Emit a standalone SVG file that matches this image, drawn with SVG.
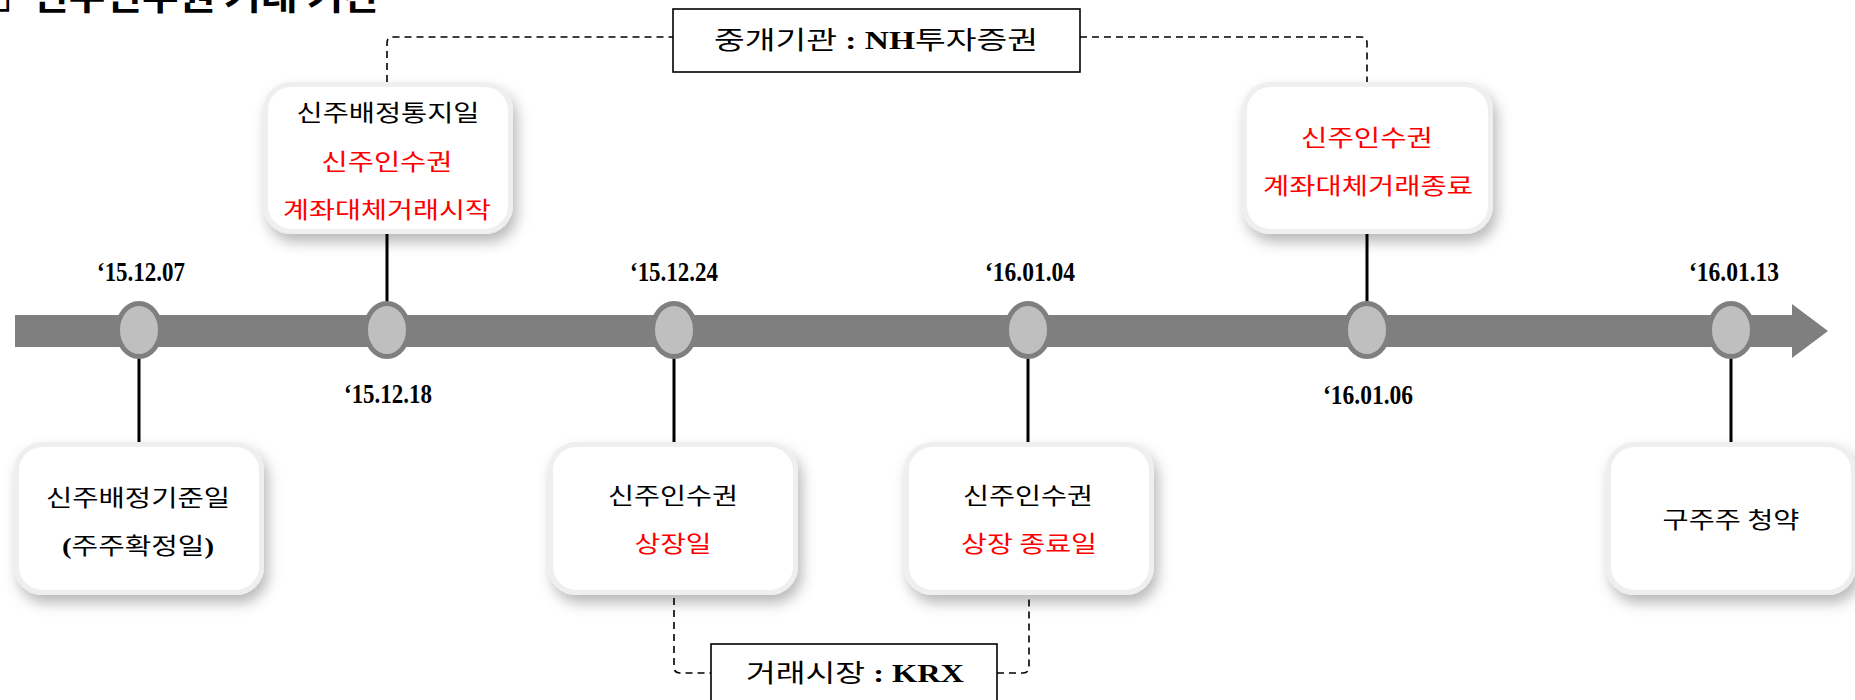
<svg xmlns="http://www.w3.org/2000/svg" width="1855" height="700" viewBox="0 0 1855 700">
<style>
.kr{font-family:"Noto Sans CJK KR","Noto Sans",sans-serif;font-size:23px;fill:#000;text-anchor:middle}
.lab{font-family:"Noto Sans CJK KR","Noto Sans",sans-serif;font-size:25px;fill:#000;text-anchor:middle}
.ser{font-family:"Liberation Serif",serif;font-weight:bold}
.red{fill:#ff0000}
.date{font-family:"Liberation Serif",serif;font-weight:bold;font-size:28px;fill:#000;text-anchor:middle}
.card{fill:#fff;stroke:#efefef;stroke-width:5;filter:url(#sh)}
.lbox{fill:#fff;stroke:#000;stroke-width:1.6}
.dot{fill:#bfbfbf;stroke:#7f7f7f;stroke-width:5}
.solid{stroke:#000;stroke-width:3;fill:none}
.dash{stroke:#000;stroke-width:1.6;stroke-dasharray:7 5;fill:none}
</style>
<defs>
<filter id="sh" x="-20%" y="-20%" width="150%" height="160%">
<feDropShadow dx="4" dy="8" stdDeviation="7" flood-color="#000" flood-opacity="0.28"/>
</filter>
</defs>
<rect width="1855" height="700" fill="#fff"/>
<g id="title">
<text y="9.5" font-family="'Noto Sans CJK KR',sans-serif" font-weight="bold" font-size="36"><tspan x="-16" font-family="'DejaVu Sans',sans-serif" font-size="30">❑</tspan><tspan x="32" textLength="348" lengthAdjust="spacingAndGlyphs">신주인수권 거래 기간</tspan></text>
</g>
<g id="timeline">
<path d="M15,315 H1792 V304 L1828,331 L1792,358 V347 H15 Z" fill="#7f7f7f"/>
</g>
<g id="connectors">
<line class="solid" x1="139" y1="358" x2="139" y2="442"/>
<line class="solid" x1="387" y1="234" x2="387" y2="303"/>
<line class="solid" x1="674" y1="358" x2="674" y2="442"/>
<line class="solid" x1="1028" y1="358" x2="1028" y2="442"/>
<line class="solid" x1="1367" y1="234" x2="1367" y2="303"/>
<line class="solid" x1="1731" y1="358" x2="1731" y2="442"/>
<path class="dash" d="M387,82 V43 Q387,37 393,37 H673"/>
<path class="dash" d="M1080,37 H1361 Q1367,37 1367,43 V82"/>
<path class="dash" d="M674,598 V667 Q674,673 680,673 H711"/>
<path class="dash" d="M997,673 H1023 Q1029,673 1029,667 V597"/>
</g>
<g id="d1"><ellipse class="dot" cx="139" cy="330" rx="21.5" ry="26.5"/><text class="date" x="141" y="281" textLength="88" lengthAdjust="spacingAndGlyphs">‘15.12.07</text></g>
<g id="d2"><ellipse class="dot" cx="387" cy="330" rx="21.5" ry="26.5"/><text class="date" x="388" y="403" textLength="88" lengthAdjust="spacingAndGlyphs">‘15.12.18</text></g>
<g id="d3"><ellipse class="dot" cx="674" cy="330" rx="21.5" ry="26.5"/><text class="date" x="674" y="281" textLength="88" lengthAdjust="spacingAndGlyphs">‘15.12.24</text></g>
<g id="d4"><ellipse class="dot" cx="1028" cy="330" rx="21.5" ry="26.5"/><text class="date" x="1030" y="281" textLength="90" lengthAdjust="spacingAndGlyphs">‘16.01.04</text></g>
<g id="d5"><ellipse class="dot" cx="1367" cy="330" rx="21.5" ry="26.5"/><text class="date" x="1368" y="404" textLength="90" lengthAdjust="spacingAndGlyphs">‘16.01.06</text></g>
<g id="d6"><ellipse class="dot" cx="1731" cy="330" rx="21.5" ry="26.5"/><text class="date" x="1734" y="281" textLength="90" lengthAdjust="spacingAndGlyphs">‘16.01.13</text></g>
<g id="box-notice">
<rect class="card" x="265.5" y="84.5" width="245" height="147" rx="26"/>
<text class="kr" x="388" y="121" textLength="183" lengthAdjust="spacingAndGlyphs">신주배정통지일</text>
<text class="kr red" x="387" y="170" textLength="131" lengthAdjust="spacingAndGlyphs">신주인수권</text>
<text class="kr red" x="387" y="218" textLength="208" lengthAdjust="spacingAndGlyphs">계좌대체거래시작</text>
</g>
<g id="box-transfer-end">
<rect class="card" x="1244.5" y="84.5" width="246" height="147" rx="26"/>
<text class="kr red" x="1367" y="146" textLength="132" lengthAdjust="spacingAndGlyphs">신주인수권</text>
<text class="kr red" x="1368" y="194" textLength="210" lengthAdjust="spacingAndGlyphs">계좌대체거래종료</text>
</g>
<g id="box-record">
<rect class="card" x="16.5" y="444.5" width="245" height="148" rx="26"/>
<text class="kr" x="138" y="506" textLength="184" lengthAdjust="spacingAndGlyphs">신주배정기준일</text>
<text class="kr" x="138" y="554" textLength="152" lengthAdjust="spacingAndGlyphs"><tspan class="ser">(</tspan>주주확정일<tspan class="ser">)</tspan></text>
</g>
<g id="box-listing">
<rect class="card" x="550.5" y="444.5" width="245" height="148" rx="26"/>
<text class="kr" x="673" y="504" textLength="130" lengthAdjust="spacingAndGlyphs">신주인수권</text>
<text class="kr red" x="673" y="552" textLength="77" lengthAdjust="spacingAndGlyphs">상장일</text>
</g>
<g id="box-delisting">
<rect class="card" x="906.5" y="444.5" width="245" height="148" rx="26"/>
<text class="kr" x="1028" y="504" textLength="130" lengthAdjust="spacingAndGlyphs">신주인수권</text>
<text class="kr red" x="1029" y="552" textLength="136" lengthAdjust="spacingAndGlyphs">상장 종료일</text>
</g>
<g id="box-subscription">
<rect class="card" x="1608.5" y="444.5" width="245" height="148" rx="26"/>
<text class="kr" x="1731" y="528" textLength="137" lengthAdjust="spacingAndGlyphs">구주주 청약</text>
</g>
<g id="broker">
<rect class="lbox" x="673" y="9" width="407" height="63"/>
<text class="lab" x="876" y="49" textLength="324" lengthAdjust="spacingAndGlyphs">중개기관<tspan class="ser"> : NH</tspan>투자증권</text>
</g>
<g id="market">
<rect class="lbox" x="711" y="644" width="286" height="70"/>
<text class="lab" x="855" y="682" textLength="218" lengthAdjust="spacingAndGlyphs">거래시장<tspan class="ser"> : KRX</tspan></text>
</g>
</svg>
